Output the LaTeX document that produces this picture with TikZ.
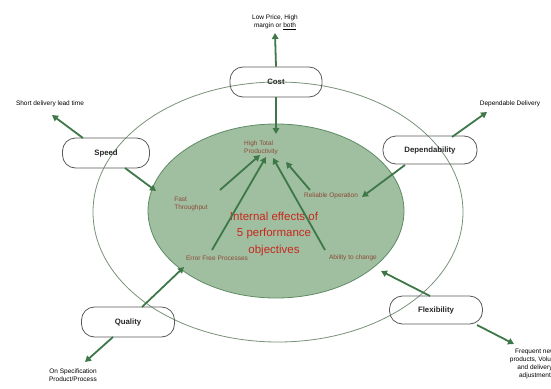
\documentclass[tikz,border=0pt]{standalone}
\usepackage{fontspec}
\setmainfont{Liberation Sans}
\usetikzlibrary{arrows.meta}
\definecolor{arrowgreen}{RGB}{62,120,72}
\definecolor{innerfill}{RGB}{160,190,160}
\definecolor{inneredge}{RGB}{95,140,100}
\definecolor{outeredge}{RGB}{120,145,120}
\definecolor{browntext}{RGB}{140,75,55}
\definecolor{redtext}{RGB}{200,40,30}
\begin{document}
\begin{tikzpicture}[x=1pt,y=-1pt,
  pill/.style={draw=gray!70!black, line width=0.8pt, rounded corners=13pt,
    minimum width=92pt, minimum height=30pt, inner sep=0pt,
    font=\fontsize{7.8}{9}\selectfont\bfseries, text=black!85},
  lbl/.style={font=\fontsize{6.5}{8}\selectfont, align=center, inner sep=0pt, text=black},
  inlbl/.style={font=\fontsize{6.5}{7.5}\selectfont, align=left, inner sep=0pt, text=browntext},
  arr/.style={draw=arrowgreen, line width=1.8pt, -{Triangle[length=6pt,width=6.5pt]}},
]
\useasboundingbox (0,0) rectangle (551,388);
% ellipses
\draw[outeredge, line width=0.8pt] (278,212) ellipse [x radius=185pt, y radius=130pt];
\draw[inneredge, fill=innerfill, line width=0.8pt] (276,211) ellipse [x radius=128pt, y radius=87pt];

% boxes
\node[pill] (cost) at (276,82) {Cost};
\node[pill, minimum width=87pt] (speed) at (106,153) {Speed};
\node[pill, minimum width=94pt, minimum height=28pt] (dep) at (430,150) {Dependability};
\node[pill, minimum width=93pt] (qual) at (128,322) {Quality};
\node[pill, minimum width=93pt, minimum height=28pt] (flex) at (436,310) {Flexibility};

% outer labels
\node[lbl] (lowprice) at (275,22) {Low Price, High\\margin or \underline{both}};
\node[lbl] (short) at (50,104) {Short delivery lead time};
\node[lbl] (depdel) at (510,104) {Dependable Delivery};
\node[lbl] (onspec) at (73,375) {On Specification\\Product/Process};
\node[lbl] (freq) at (535,364) {Frequent new\\products, Volume\\and delivery\\adjustment};

% inner labels
\node[inlbl] (htp) at (261,148) {High Total\\Productivity};
\node[inlbl] (fast) at (191,204) {Fast\\Throughput};
\node[inlbl] (rel) at (331,196) {Reliable Operation};
\node[inlbl] (err) at (217,258) {Error Free Processes};
\node[inlbl] (abil) at (353,258) {Ability to change};
\node[font=\fontsize{11.5}{16.5}\selectfont, align=center, text=redtext, inner sep=0pt] (internal) at (274,234)
  {Internal effects of\\5 performance\\objectives};

% coordinates
\coordinate (costin) at (276,134);
\coordinate (sp1) at (83,138);
\coordinate (sp1e) at (52,115);
\coordinate (sp2) at (125,168);
\coordinate (sp2e) at (156,191);
\coordinate (dp1) at (452,137);
\coordinate (dp1e) at (487,112);
\coordinate (dp2) at (405,165);
\coordinate (dp2e) at (362,197);
\coordinate (q1) at (142,307);
\coordinate (q1e) at (184,267);
\coordinate (q2) at (113,337);
\coordinate (q2e) at (85,362);
\coordinate (f1) at (430,296);
\coordinate (f1e) at (381,271);
\coordinate (f2) at (477,325);
\coordinate (f2e) at (514,344);
\coordinate (i1) at (220,190);
\coordinate (i1e) at (260,155);
\coordinate (i2) at (212,250);
\coordinate (i2e) at (266,157);
\coordinate (i3) at (325,250);
\coordinate (i3e) at (273,158);
\coordinate (i4) at (310,190);
\coordinate (i4e) at (286,162);

% arrows
\draw[arr] (cost.north) -- (lowprice.south |- 0,33);
\draw[arr] (cost.south) -- (costin);
\draw[arr] (sp1) -- (sp1e);
\draw[arr] (sp2) -- (sp2e);
\draw[arr] (dp1) -- (dp1e);
\draw[arr] (dp2) -- (dp2e);
\draw[arr] (q1) -- (q1e);
\draw[arr] (q2) -- (q2e);
\draw[arr] (f1) -- (f1e);
\draw[arr] (f2) -- (f2e);
\draw[arr] (i1) -- (i1e);
\draw[arr] (i2) -- (i2e);
\draw[arr] (i3) -- (i3e);
\draw[arr] (i4) -- (i4e);
\end{tikzpicture}
\end{document}
